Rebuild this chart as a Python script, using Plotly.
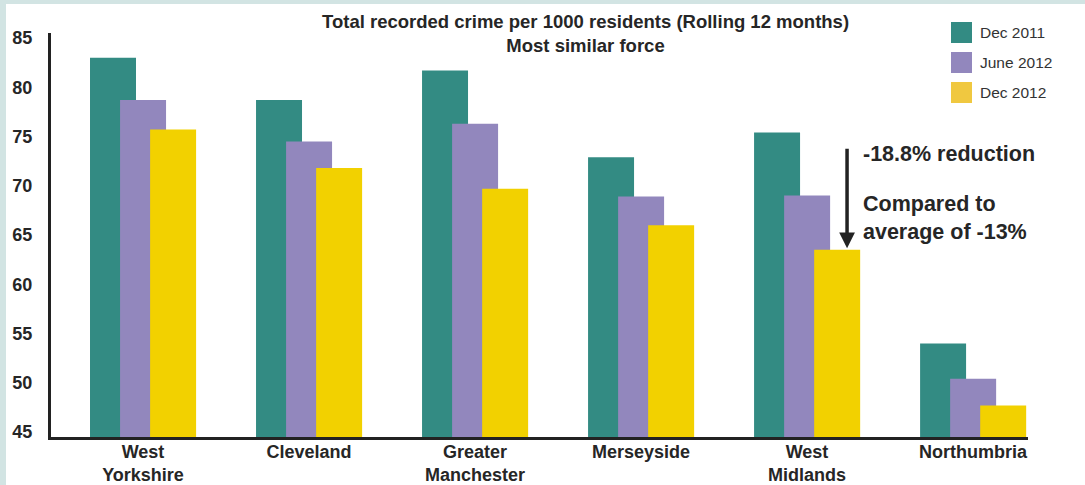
import plotly.graph_objects as go

categories = ["West<br>Yorkshire", "Cleveland", "Greater<br>Manchester", "Merseyside", "West<br>Midlands", "Northumbria"]
series_names = ["Dec 2011", "June 2012", "Dec 2012"]
dec_2011 = [83.0, 78.7, 81.7, 72.9, 75.4, 54.0]
june_2012 = [78.7, 74.5, 76.3, 68.9, 69.0, 50.4]
dec_2012 = [75.7, 71.8, 69.7, 66.0, 63.5, 47.7]
y_ticks = [45, 50, 55, 60, 65, 70, 75, 80, 85]

colors = ["#338b83", "#9287bd", "#f2d100"]
legend_colors = ["#338b83", "#9287bd", "#f0c840"]
FONT = "Liberation Sans, Arial, Helvetica, sans-serif"
TXT = "#262626"

W, H = 1085, 485
L, R, T, B = 51, 1028, 33, 437
pw, ph = R - L, B - T

x_idx = list(range(len(categories)))
bar_w = 0.277
offsets = [-0.319, -0.138, 0.043]

fig = go.Figure()
for name, vals, col, off in zip(series_names, [dec_2011, june_2012, dec_2012], colors, offsets):
    fig.add_trace(go.Bar(x=x_idx, y=vals, name=name, marker=dict(color=col, line=dict(width=0)),
                         width=bar_w, offset=off, showlegend=False))

fig.update_layout(
    width=W, height=H,
    margin=dict(l=L, r=W - R, t=T, b=H - B, pad=0, autoexpand=False),
    paper_bgcolor="white", plot_bgcolor="white",
    barmode="overlay",
    font=dict(family=FONT, color=TXT),
    xaxis=dict(range=[-0.554, 5.331], tickvals=x_idx, ticktext=["<b>%s</b>" % c for c in categories],
               showgrid=False, zeroline=False, showline=True, linecolor="#222", linewidth=3,
               ticks="", tickfont=dict(size=18, family=FONT, color=TXT), automargin=False,
               ticklabelstandoff=-4),
    yaxis=dict(range=[44.5, 85.5], tickvals=y_ticks, ticktext=["<b>%d</b>" % v for v in y_ticks],
               showgrid=False, zeroline=False, showline=True, linecolor="#222", linewidth=3,
               ticks="", tickfont=dict(size=18, family=FONT, color=TXT), ticklabelstandoff=12,
               automargin=False),
)

def px(x):
    return (x - L) / pw

def py(y):
    return (B - y) / ph

shapes = [
    dict(type="rect", xref="paper", yref="paper", x0=px(0), x1=px(6), y0=py(H), y1=py(0),
         fillcolor="#d2e4e3", line=dict(width=0), layer="above"),
    dict(type="rect", xref="paper", yref="paper", x0=px(0), x1=px(W), y0=py(4), y1=py(0),
         fillcolor="#d2e4e3", line=dict(width=0), layer="above"),
]
annotations = []
for i, (name, col) in enumerate(zip(series_names, legend_colors)):
    y0 = 22 + 30 * i
    shapes.append(dict(type="rect", xref="paper", yref="paper", x0=px(951), x1=px(972),
                       y0=py(y0 + 21), y1=py(y0), fillcolor=col, line=dict(width=0)))
    annotations.append(dict(xref="paper", yref="paper", x=px(978), y=py(y0 + 10.5), text=name,
                            showarrow=False, xanchor="left", yanchor="middle",
                            font=dict(size=15.5, family=FONT, color="#333")))

annotations.append(dict(xref="paper", yref="paper", x=px(585), y=py(33),
                        text="<b>Total recorded crime per 1000 residents (Rolling 12 months)</b><br><b>Most similar force</b>",
                        showarrow=False, xanchor="center", yanchor="middle",
                        font=dict(size=18.5, family=FONT, color=TXT)))

# arrow pointing to West Midlands Dec 2012 bar
annotations.append(dict(xref="x", yref="y", x=4 + offsets[2] + bar_w * 0.715, y=dec_2012[4] + 0.15,
                        ax=0, ay=-101, text="", showarrow=True, arrowhead=2, arrowsize=0.9,
                        arrowwidth=3.5, arrowcolor="#222"))
annotations.append(dict(xref="paper", yref="paper", x=px(861), y=py(154), text="<b>-18.8% reduction</b>",
                        showarrow=False, xanchor="left", yanchor="middle",
                        font=dict(size=21.5, family=FONT, color=TXT)))
annotations.append(dict(xref="paper", yref="paper", x=px(861), y=py(218),
                        text="<b>Compared to</b><br><b>average of -13%</b>",
                        showarrow=False, xanchor="left", yanchor="middle", align="left",
                        font=dict(size=21.5, family=FONT, color=TXT)))

fig.update_layout(shapes=shapes, annotations=annotations)
fig.write_html("out.html")
